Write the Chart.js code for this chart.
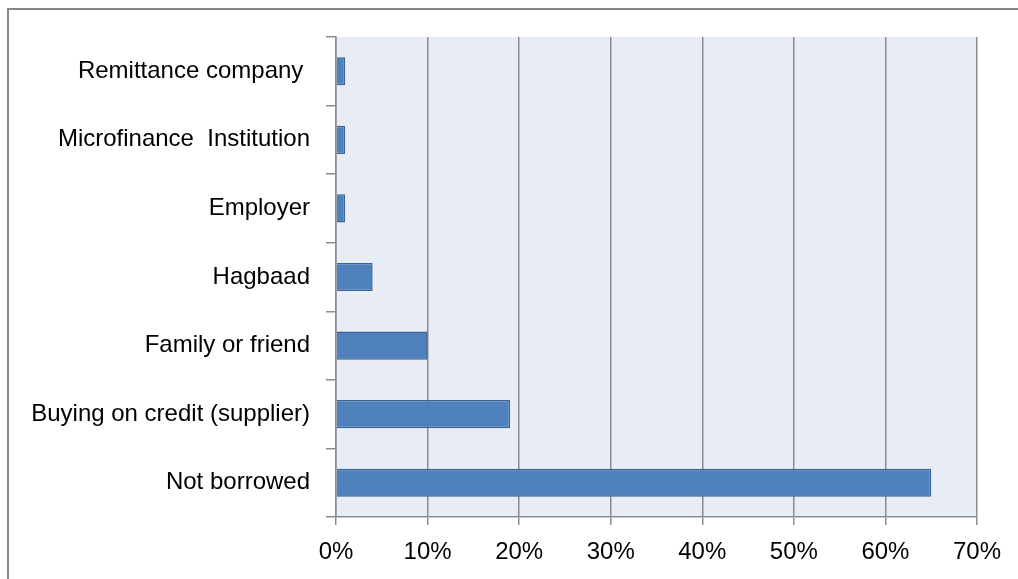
<!DOCTYPE html>
<html>
<head>
<meta charset="utf-8">
<script src="https://cdn.jsdelivr.net/npm/chart.js@4/dist/chart.umd.min.js"></script>
<style>
  html, body { margin: 0; padding: 0; background: #fff; }
  #wrap { width: 1018px; height: 579px; position: relative; }
</style>
</head>
<body>
<div id="wrap"><canvas id="borrowChart" width="1018" height="579"></canvas></div>
<script>
// sources of borrowing, top to bottom
const sources = [
    'Remittance company ',
    'Microfinance  Institution',
    'Employer',
    'Hagbaad',
    'Family or friend',
    'Buying on credit (supplier)',
    'Not borrowed'
];
const shares = [1, 1, 1, 4, 10, 19, 65];
const xTicks = [0, 10, 20, 30, 40, 50, 60, 70];

const axisGray = '#8c8c8c';
const labelFont = { family: 'Liberation Sans, Arial, sans-serif', size: 24 };

// plot background + outer frame
const framePlugin = {
    id: 'frame',
    beforeDraw(chart) {
        const { ctx, chartArea: a } = chart;
        ctx.save();
        ctx.fillStyle = '#fff';
        ctx.fillRect(0, 0, chart.width, chart.height);
        ctx.fillStyle = '#e7ecf5';
        ctx.fillRect(a.left, a.top, a.right - a.left, a.bottom - a.top);
        ctx.strokeStyle = '#868686';
        ctx.lineWidth = 2;
        ctx.beginPath();
        ctx.moveTo(8, chart.height);
        ctx.lineTo(8, 9);
        ctx.lineTo(chart.width, 9);
        ctx.stroke();
        ctx.restore();
    }
};

const canvas = document.getElementById('borrowChart');
new Chart(canvas, {
    type: 'bar',
    data: {
        labels: sources,
        datasets: [{
            data: shares,
            backgroundColor: '#4f81bd',
            borderColor: '#3a6494',
            borderWidth: 1.5,
            barPercentage: 0.41,
            categoryPercentage: 1
        }]
    },
    options: {
        indexAxis: 'y',
        responsive: false,
        animation: false,
        layout: { padding: { top: 37, right: 41, left: 0, bottom: 0 } },
        plugins: {
            legend: { display: false },
            title: { display: false },
            tooltip: { enabled: false }
        },
        scales: {
            x: {
                min: 0,
                max: 70,
                afterBuildTicks(scale) {
                    scale.ticks = xTicks.map(v => ({ value: v }));
                },
                afterFit(scale) { scale.height = 62; },
                grid: { color: axisGray, lineWidth: 1.5, tickLength: 8 },
                border: { color: axisGray, width: 1.5 },
                ticks: {
                    color: '#000',
                    font: labelFont,
                    padding: 13,
                    maxRotation: 0,
                    callback: v => v + '%'
                }
            },
            y: {
                afterFit(scale) { scale.width = 336; },
                grid: {
                    offset: true,
                    drawOnChartArea: false,
                    color: axisGray,
                    lineWidth: 1.5,
                    tickLength: 10
                },
                border: { color: axisGray, width: 1.5 },
                ticks: { color: '#000', font: labelFont, padding: 16 }
            }
        }
    },
    plugins: [framePlugin]
});
</script>
</body>
</html>
